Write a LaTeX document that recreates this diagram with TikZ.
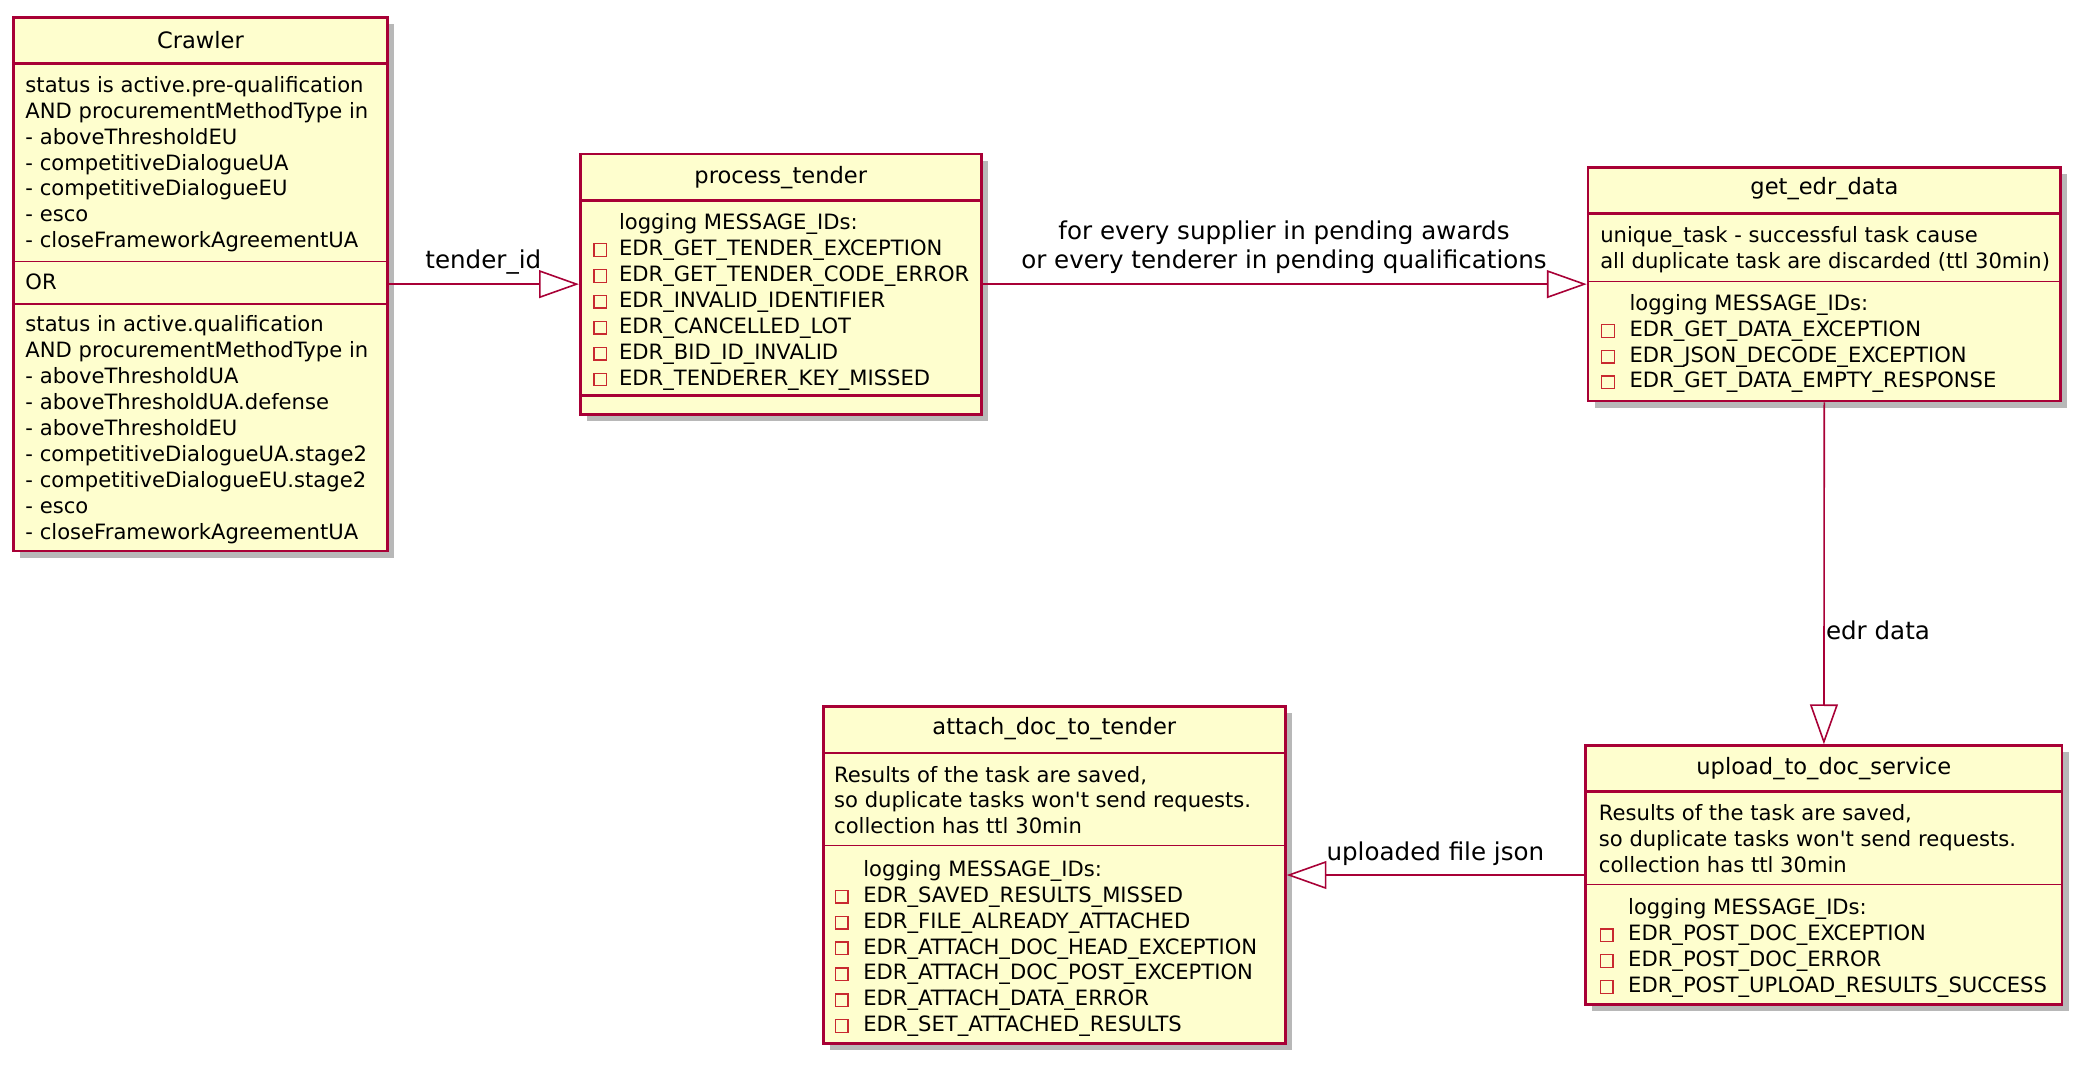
\documentclass[tikz,border=0pt]{standalone}
\usepackage{fontspec}
\newfontfamily\umlfont{DejaVu Sans}
\usepackage{tikz}
\usetikzlibrary{arrows.meta, positioning, shadows}
\definecolor{umlborder}{HTML}{A80036}
\definecolor{umlfill}{HTML}{FEFECE}
\definecolor{privred}{HTML}{C82930}
\tikzset{
  classbox/.style={draw=umlborder, fill=umlfill, line width=2pt, inner sep=0pt,
    drop shadow={shadow xshift=5pt, shadow yshift=-5pt, fill=black, opacity=0.28}},
  classname/.style={font=\umlfont\fontsize{17}{20}\selectfont, inner sep=0pt},
  attr/.style={font=\umlfont\fontsize{15.9}{19.4}\selectfont, anchor=west, inner sep=0pt, text height=12pt, text depth=2pt},
  headsep/.style={draw=umlborder, line width=2pt},
  partsep/.style={draw=umlborder, line width=1pt},
  privmark/.style={draw=privred, line width=1pt, minimum size=9.5pt, inner sep=0pt},
  assoc/.style={draw=umlborder, line width=1.2pt, -{Triangle[length=30pt, width=21pt, fill=white]}},
  edgelabel/.style={font=\umlfont\fontsize{18.5}{22}\selectfont, inner sep=0pt}
}

\begin{document}
\begin{tikzpicture}[x=1pt, y=-1pt]
\useasboundingbox (0,0) rectangle (1568,802);

% Crawler
\node[classbox, minimum width=282, minimum height=402] (crawler) at (151,214) {};
\node[classname] (crawlerT) at (151,30) {Crawler};
\draw[headsep] (crawler.west |- 0,48) -- (crawler.east |- 0,48);
\draw[partsep] (crawler.west |- 0,197) -- (crawler.east |- 0,197);
\draw[partsep] (crawler.west |- 0,229) -- (crawler.east |- 0,229);
\foreach \t [count=\i from 0] in {status is active.pre-qualification, AND procurementMethodType in,
    - aboveThresholdEU, - competitiveDialogueUA, - competitiveDialogueEU, - esco, - closeFrameworkAgreementUA}
  \node[attr] (crawlerA\i) at (19,65+19.4*\i) {\t};
\node[attr] (crawlerOr) at (19,213) {OR};
\foreach \t [count=\i from 0] in {status in active.qualification, AND procurementMethodType in,
    - aboveThresholdUA, - aboveThresholdUA.defense, - aboveThresholdEU, - competitiveDialogueUA.stage2,
    - competitiveDialogueEU.stage2, - esco, - closeFrameworkAgreementUA}
  \node[attr] (crawlerB\i) at (19,245+19.5*\i) {\t};

% process_tender
\node[classbox, minimum width=302, minimum height=196] (proc) at (588,214) {};
\node[classname] (procT) at (588,134) {process\_tender};
\draw[headsep] (proc.west |- 0,151) -- (proc.east |- 0,151);
\draw[headsep] (proc.west |- 0,298) -- (proc.east |- 0,298);
\node[attr] (procLog) at (466,168) {logging MESSAGE\_IDs:};
\foreach \t [count=\i] in {EDR\_GET\_TENDER\_EXCEPTION, EDR\_GET\_TENDER\_CODE\_ERROR, EDR\_INVALID\_IDENTIFIER,
    EDR\_CANCELLED\_LOT, EDR\_BID\_ID\_INVALID, EDR\_TENDERER\_KEY\_MISSED} {
  \node[privmark] (procM\i) at (452,168.8+19.5*\i) {};
  \node[attr] (procL\i) at (466,168+19.5*\i) {\t};
}

% get_edr_data
\node[classbox, minimum width=356, minimum height=176] (edr) at (1374,214) {};
\node[classname] (edrT) at (1374,142) {get\_edr\_data};
\draw[headsep] (edr.west |- 0,161) -- (edr.east |- 0,161);
\draw[partsep] (edr.west |- 0,212) -- (edr.east |- 0,212);
\node[attr] (edrA1) at (1205,178) {unique\_task - successful task cause};
\node[attr] (edrA2) at (1205,197) {all duplicate task are discarded (ttl 30min)};
\node[attr] (edrLog) at (1227,229) {logging MESSAGE\_IDs:};
\foreach \t [count=\i] in {EDR\_GET\_DATA\_EXCEPTION, EDR\_JSON\_DECODE\_EXCEPTION, EDR\_GET\_DATA\_EMPTY\_RESPONSE} {
  \node[privmark] (edrM\i) at (1211,229.8+19.4*\i) {};
  \node[attr] (edrL\i) at (1227,229+19.4*\i) {\t};
}

% attach_doc_to_tender
\node[classbox, minimum width=348, minimum height=254] (attach) at (794,659) {};
\node[classname] (attachT) at (794,549) {attach\_doc\_to\_tender};
\draw[headsep] (attach.west |- 0,567) -- (attach.east |- 0,567);
\draw[partsep] (attach.west |- 0,637) -- (attach.east |- 0,637);
\foreach \t [count=\i from 0] in {{Results of the task are saved,}, so duplicate tasks won't send requests., collection has ttl 30min}
  \node[attr] (attachA\i) at (628,584+19.5*\i) {\t};
\node[attr] (attachLog) at (650,655) {logging MESSAGE\_IDs:};
\foreach \t [count=\i] in {EDR\_SAVED\_RESULTS\_MISSED, EDR\_FILE\_ALREADY\_ATTACHED, EDR\_ATTACH\_DOC\_HEAD\_EXCEPTION,
    EDR\_ATTACH\_DOC\_POST\_EXCEPTION, EDR\_ATTACH\_DATA\_ERROR, EDR\_SET\_ATTACHED\_RESULTS} {
  \node[privmark] (attachM\i) at (634,655.8+19.5*\i) {};
  \node[attr] (attachL\i) at (650,655+19.5*\i) {\t};
}

% upload_to_doc_service
\node[classbox, minimum width=359, minimum height=195] (upload) at (1373.5,659) {};
\node[classname] (uploadT) at (1373.5,579) {upload\_to\_doc\_service};
\draw[headsep] (upload.west |- 0,596) -- (upload.east |- 0,596);
\draw[partsep] (upload.west |- 0,666) -- (upload.east |- 0,666);
\foreach \t [count=\i from 0] in {{Results of the task are saved,}, so duplicate tasks won't send requests., collection has ttl 30min}
  \node[attr] (uploadA\i) at (1204,613+19.5*\i) {\t};
\node[attr] (uploadLog) at (1226,684) {logging MESSAGE\_IDs:};
\foreach \t [count=\i] in {EDR\_POST\_DOC\_EXCEPTION, EDR\_POST\_DOC\_ERROR, EDR\_POST\_UPLOAD\_RESULTS\_SUCCESS} {
  \node[privmark] (uploadM\i) at (1210,684.8+19.5*\i) {};
  \node[attr] (uploadL\i) at (1226,684+19.5*\i) {\t};
}

% connectors
\draw[assoc] (crawler) -- (proc);
\node[edgelabel] (lblTender) at (364,197) {tender\_id};
\draw[assoc] (proc) -- (edr);
\node[edgelabel] (lblSupp) at (967,175) {for every supplier in pending awards};
\node[edgelabel] (lblTend) at (967,197) {or every tenderer in pending qualifications};
\draw[assoc] (edr) -- (upload);
\node[edgelabel, anchor=west] (lblEdr) at (1375,475) {edr data};
\draw[assoc] (upload) -- (attach);
\node[edgelabel] (lblUpl) at (1081,643) {uploaded file json};
\end{tikzpicture}
\end{document}
